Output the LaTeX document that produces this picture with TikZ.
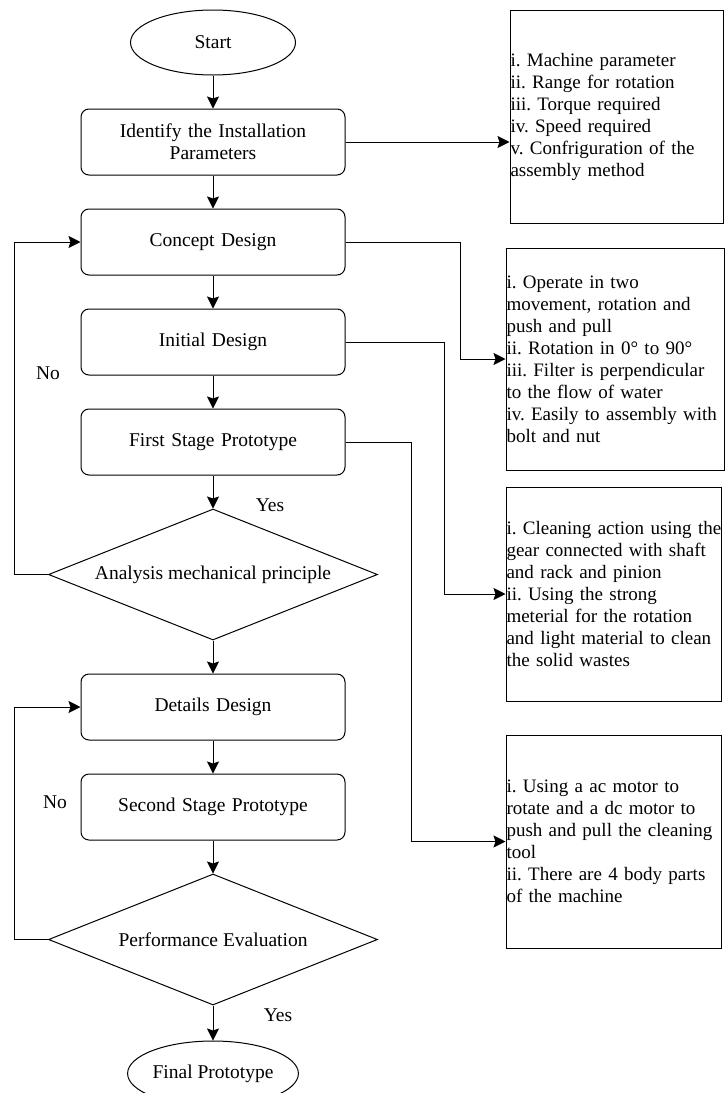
\documentclass[tikz,border=0pt]{standalone}
\usepackage{fontspec}
\setmainfont{Liberation Serif}
\usetikzlibrary{positioning,shapes.geometric,arrows.meta}
\frenchspacing

\begin{document}
\begin{tikzpicture}[x=1pt,y=1pt,node distance=33pt,line width=1pt,
  font=\fontsize{19.5}{22}\selectfont,
  >={Stealth[length=12pt,width=12pt,inset=2pt]},
  terminal/.style={ellipse,draw,minimum width=165pt,minimum height=65pt,inner sep=0pt},
  process/.style={rectangle,draw,rounded corners=8pt,minimum width=264pt,minimum height=66pt,text width=250pt,align=center},
  decision/.style={diamond,draw,minimum width=329pt,minimum height=131pt,aspect=2.5,inner sep=0pt},
  note/.style={rectangle,draw,inner xsep=0.5pt,inner ysep=0pt,align=left,font=\fontsize{19}{22}\selectfont}]
\useasboundingbox (0,0) rectangle (725,-1093);
\node [terminal] (start) at (213,-42.5) {Start};
\node [process,below=of start] (ident) {Identify the Installation\\Parameters};
\node [process,below=of ident] (concept) {Concept Design};
\node [process,below=of concept] (initial) {Initial Design};
\node [process,below=of initial] (first) {First Stage Prototype};
\node [decision,below=of first] (analysis) {Analysis mechanical principle};
\node [process,below=of analysis] (details) {Details Design};
\node [process,below=of details] (second) {Second Stage Prototype};
\node [decision,below=of second] (perf) {Performance Evaluation};
\node [terminal,below=35pt of perf] (final) {Final Prototype};

\node [note,text width=212pt,minimum height=213pt] (machine) at (616.5,-116.5)
  {i. Machine parameter\\ii. Range for rotation\\iii. Torque required\\iv. Speed required\\v. Confriguration of the\\assembly method};
\node [note,text width=217pt,minimum height=222pt] (operate) at (615,-359)
  {i. Operate in two\\movement, rotation and\\push and pull\\ii. Rotation in 0° to 90°\\iii. Filter is perpendicular\\to the flow of water\\iv. Easily to assembly with\\bolt and nut};
\node [note,text width=214pt,minimum height=214pt] (cleaning) at (613.5,-594)
  {\mbox{i. Cleaning action using the}\\gear connected with shaft\\and rack and pinion\\ii. Using the strong\\meterial for the rotation\\and light material to clean\\the solid wastes};
\node [note,text width=214pt,minimum height=213pt] (motor) at (613.5,-841.5)
  {i. Using a ac motor to\\rotate and a dc motor to\\push and pull the cleaning\\tool\\ii. There are 4 body parts\\of the machine};

\foreach \a/\b in {start/ident,ident/concept,concept/initial,initial/first,first/analysis,analysis/details,details/second,second/perf,perf/final}
  \draw [->] (\a) -- (\b);

\draw [->] (ident.east) -- (ident.east -| machine.west);
\draw [->] (concept.east) -- ++(115,0) |- (operate.west);
\draw [->] (initial.east) -- ++(99,0) |- (cleaning.west);
\draw [->] (first.east) -- ++(66,0) |- (motor.west);

\draw [->] (analysis.west) -- ++(-34,0) |- (concept.west);
\draw [->] (perf.west) -- ++(-34,0) |- (details.west);

\node (no1) at (48,-373) {No};
\node (yes1) at (270,-505) {Yes};
\node (no2) at (55,-802) {No};
\node (yes2) at (278,-1015) {Yes};
\end{tikzpicture}
\end{document}
